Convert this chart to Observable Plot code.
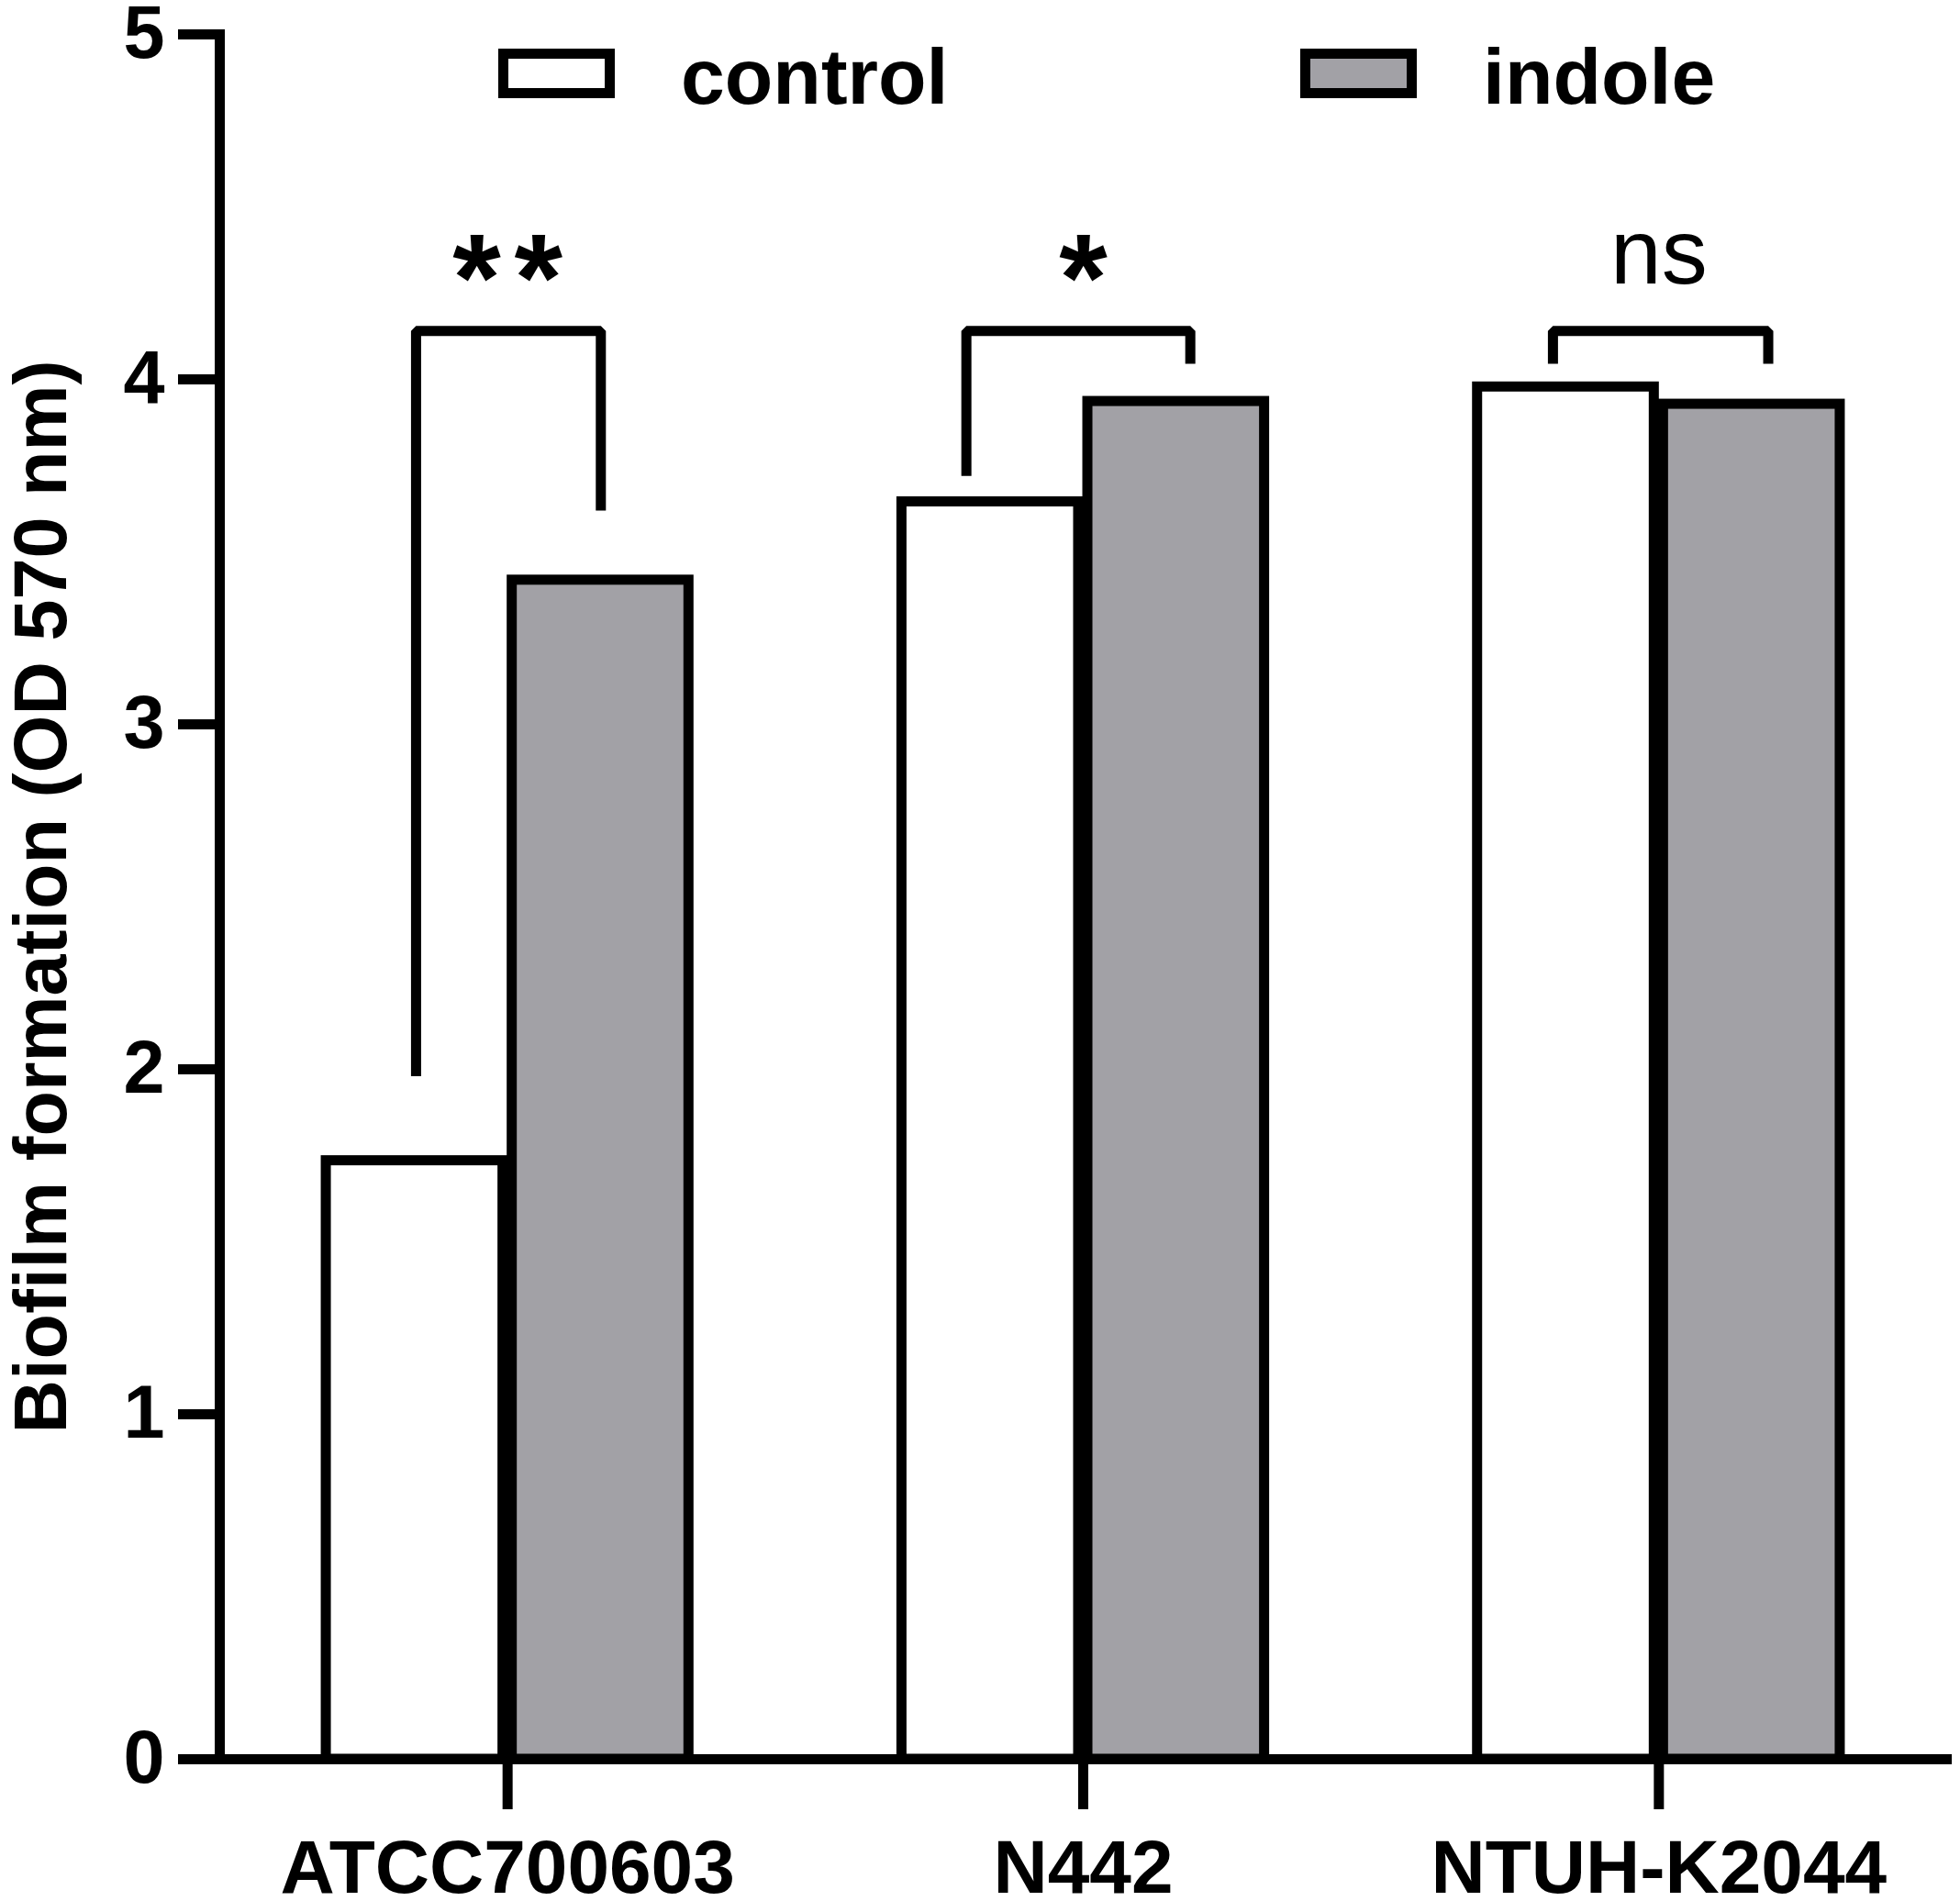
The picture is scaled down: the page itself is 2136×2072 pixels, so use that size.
<!DOCTYPE html>
<html>
<head>
<meta charset="utf-8">
<script src="https://cdn.jsdelivr.net/npm/d3@7"></script>
<script src="https://cdn.jsdelivr.net/npm/@observablehq/plot@0.6"></script>
<style>
  body { margin: 0; background: #fff; font-family: "Liberation Sans", Arial, sans-serif; }
  #wrap { position: relative; width: 2136px; height: 2072px; }
  #wrap svg { display: block; }
  .lg-box { position: absolute; box-sizing: border-box; border: 11px solid #000; width: 127px; height: 54px; top: 53px; }
  .lg-text { position: absolute; top: 40px; font-size: 86px; line-height: 86px; font-weight: bold; color: #000; white-space: nowrap; }
</style>
</head>
<body>
<div id="wrap"></div>
<script>
// ---- data ----
const strains = ["ATCC700603", "N442", "NTUH-K2044"];
const groups = ["control", "indole"];
const groupColors = ["#ffffff", "#a2a1a6"];
const control = [1.735, 3.645, 3.978];
const indole = [3.418, 3.936, 3.928];
const yTicks = [0, 1, 2, 3, 4, 5];
const yLabel = "Biofilm formation (OD 570 nm)";

// significance annotations
const sigLabels = ["**", "*", "ns"];
const sigY = [4.287, 4.287, 4.364];
const bracketLeft = [-0.159, -0.203, -0.184];
const bracketRight = [0.162, 0.186, 0.19];
const bracketLeftBottom = [1.98, 3.72, 4.045];
const bracketRightBottom = [3.62, 4.045, 4.045];
const bracketTop = [4.14, 4.14, 4.14];

// ---- derived tables ----
const half = 0.315, gap = 0.008;
const rows = strains.flatMap((s, i) => [
  {i, strain: s, group: groups[0], value: control[i]},
  {i, strain: s, group: groups[1], value: indole[i]}
]);
const bracketPts = strains.flatMap((s, i) => [
  {i, x: i + bracketLeft[i], y: bracketLeftBottom[i]},
  {i, x: i + bracketLeft[i], y: bracketTop[i]},
  {i, x: i + bracketRight[i], y: bracketTop[i]},
  {i, x: i + bracketRight[i], y: bracketRightBottom[i]}
]);
// asterisks drawn one glyph each so they can be spaced like the original
const starRows = [];
const textRows = [];
sigLabels.forEach((lab, i) => {
  if (/^\*+$/.test(lab)) {
    const n = lab.length;
    for (let k = 0; k < n; k++) starRows.push({x: i + (k - (n - 1) / 2) * 0.107, y: sigY[i], t: "*"});
  } else {
    textRows.push({x: i, y: sigY[i], t: lab});
  }
});

const font = "'Liberation Sans', Arial, sans-serif";

const chart = Plot.plot({
  width: 2136,
  height: 2072,
  marginTop: 37,
  marginBottom: 155,
  marginLeft: 239,
  marginRight: 15,
  style: {fontFamily: font, background: "white", color: "black", overflow: "visible"},
  x: {domain: [-0.5, 2.5], axis: null},
  y: {domain: [0, 5], axis: null},
  color: {domain: groups, range: groupColors},
  marks: [
    Plot.rectY(rows, {
      x1: d => d.group === groups[0] ? d.i - half : d.i + gap,
      x2: d => d.group === groups[0] ? d.i - gap : d.i + half,
      y1: 0,
      y2: "value",
      fill: "group",
      stroke: "black",
      strokeWidth: 11,
      strokeLinejoin: "miter"
    }),
    Plot.line(bracketPts, {x: "x", y: "y", z: "i", stroke: "black", strokeWidth: 11, strokeLinejoin: "miter", strokeLinecap: "butt", curve: "linear"}),
    Plot.text(starRows, {x: "x", y: "y", text: "t", fontSize: 135, fontWeight: "bold", fill: "black", lineAnchor: "middle", fontFamily: font}),
    Plot.text(textRows, {x: "x", y: "y", text: "t", fontSize: 100, fontWeight: "normal", fill: "black", lineAnchor: "middle", fontFamily: font}),
    Plot.axisY({
      ticks: yTicks,
      tickSize: 45,
      tickPadding: 15,
      tickFormat: d => String(d),
      fontSize: 81,
      fontWeight: "bold",
      strokeWidth: 11,
      label: yLabel,
      labelArrow: "none",
      labelAnchor: "center",
      labelOffset: 225
    }),
    Plot.axisX({
      ticks: [0, 1, 2],
      tickSize: 55,
      tickPadding: 32,
      tickFormat: i => strains[i],
      fontSize: 82,
      fontWeight: "bold",
      strokeWidth: 11,
      label: null
    }),
    Plot.frame({anchor: "left", stroke: "black", strokeWidth: 11, strokeLinecap: "square"}),
    Plot.frame({anchor: "bottom", stroke: "black", strokeWidth: 11, strokeLinecap: "square"})
  ]
});

const wrap = document.getElementById("wrap");
wrap.appendChild(chart);

// legend overlay (inside the plot area, as in the original)
const legendLeft = [543, 1417];
const legendTextLeft = [742, 1616];
groups.forEach((g, k) => {
  const box = document.createElement("div");
  box.className = "lg-box";
  box.style.left = legendLeft[k] + "px";
  box.style.background = groupColors[k];
  wrap.appendChild(box);
  const t = document.createElement("div");
  t.className = "lg-text";
  t.style.left = legendTextLeft[k] + "px";
  t.textContent = g;
  wrap.appendChild(t);
});
</script>
</body>
</html>
